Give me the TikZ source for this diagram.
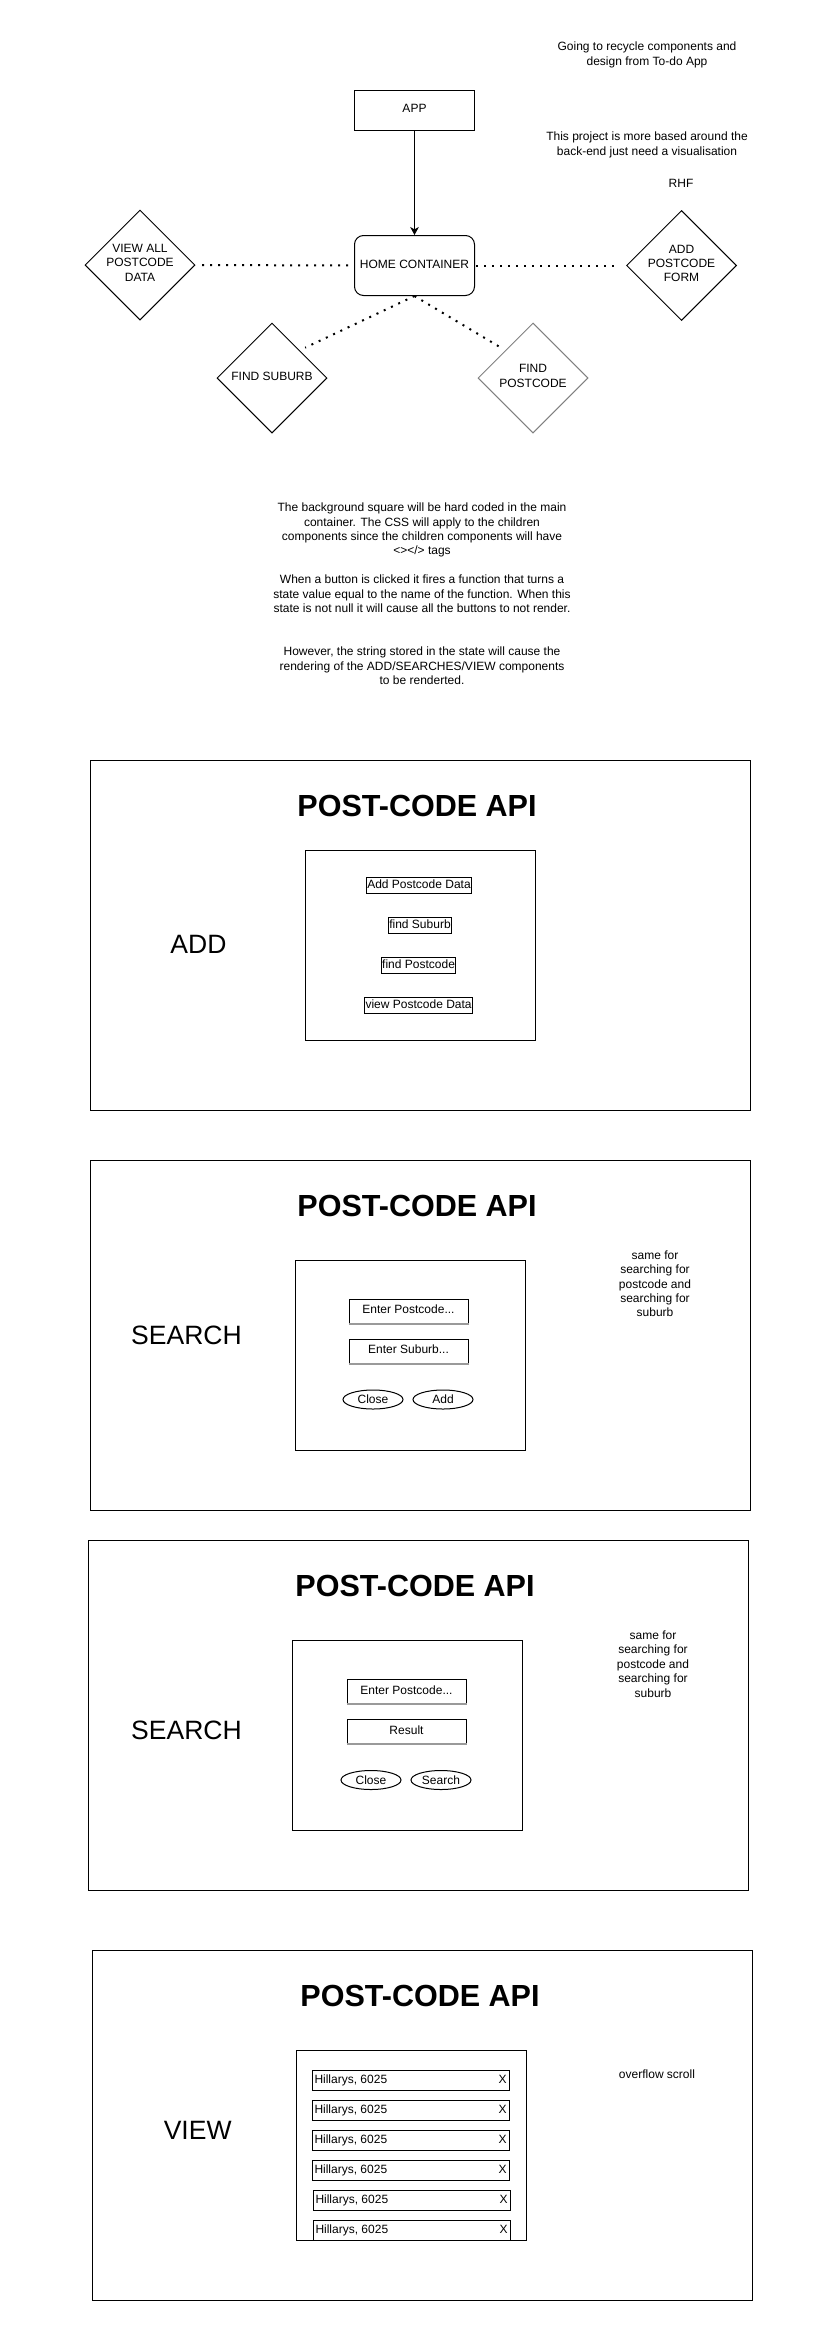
\documentclass[tikz,border=0pt]{standalone}
\usepackage{fontspec}
\setmainfont{Liberation Sans}
\usetikzlibrary{shapes.geometric,arrows.meta}
\definecolor{strokegray}{HTML}{808080}
\definecolor{shadowgray}{HTML}{9A9A9A}
\newcommand{\rowitem}{\makebox[144pt]{Hillarys, 6025\hfill X}}
\begin{document}
\begin{tikzpicture}[x=0.75pt,y=-0.75pt,line width=0.75pt,
  txt/.style={font=\fontsize{9}{10.8}\selectfont,align=center,inner sep=0pt,
    execute at begin node=\strut,execute at end node=\strut},
  box/.style={txt,draw,rectangle},
  dia/.style={draw,diamond,minimum width=82.5pt,minimum height=82.5pt,inner sep=0pt},
  dialabel/.style={txt},
  arr/.style={-{Stealth[length=6pt,width=6.5pt,inset=1.8pt]}},
  dotline/.style={line width=1.5pt,dash pattern=on 1.5pt off 4.5pt,shorten >=4.5pt},
  frame/.style={draw,rectangle,minimum width=495pt,minimum height=262.5pt,inner sep=0pt},
  panel/.style={draw,rectangle,minimum width=172.5pt,minimum height=142.5pt,inner sep=0pt},
  title/.style={font=\fontsize{22.9}{27.5}\selectfont\bfseries,anchor=base,inner sep=0pt},
  biglabel/.style={font=\fontsize{19.9}{23.9}\selectfont,anchor=base,inner sep=0pt},
  btn/.style={box,minimum height=12pt,inner xsep=0.5pt,inner ysep=0pt},
  inputbox/.style={box,minimum width=89.25pt,minimum height=18pt},
  shadowline/.style={draw=shadowgray,line width=1.5pt},
  oval/.style={draw,ellipse,font=\fontsize{9}{10.8}\selectfont,minimum width=45pt,minimum height=14.25pt,inner sep=0pt},
  rowbox/.style={draw,rectangle,font=\fontsize{9}{10.8}\selectfont,inner xsep=1.875pt,inner ysep=0pt,minimum height=15pt,text height=6.8pt,text depth=1.6pt}
]
\useasboundingbox (0,0) rectangle (827,2338);

% ---------- top diagram ----------
\node[txt] (note1) at (647,56) {Going to recycle components and\\design from To-do App};
\node[txt] (note2) at (647,146) {This project is more based around the\\back-end just need a visualisation};
\node[txt] (rhf) at (681,185) {RHF};

\node[box,minimum width=90pt,minimum height=30pt] (app) at (414.5,110) {APP};
\node[box,rounded corners=6.75pt,minimum width=90pt,minimum height=45pt] (home) at (414.5,265.5) {HOME CONTAINER};

\node[dia,label={[dialabel]center:VIEW ALL\\POSTCODE\\DATA}] (viewall) at (140,265) {};
\node[dia,label={[dialabel]center:ADD\\POSTCODE\\FORM}] (addform) at (681.5,265.5) {};
\node[dia,label={[dialabel]center:FIND SUBURB}] (findsub) at (272,378) {};
\node[dia,draw=strokegray,label={[dialabel]center:FIND\\POSTCODE}] (findpc) at (533,378) {};

\draw[arr] (app) -- (home);
\draw[dotline,shorten <=4.5pt] (home.west) -- (viewall.east);
\draw[dotline,shorten <=1pt] (home.east) -- (addform.west);
\draw[dotline] (home.south) -- (findsub.north east);
\draw[dotline] (home.south) -- (findpc.north west);

\node[txt] (para) at (422,596) {The background square will be hard coded in the main\\container. The CSS will apply to the children\\components since the children components will have\\<></> tags\\[10.8pt]When a button is clicked it fires a function that turns a\\state value equal to the name of the function. When this\\state is not null it will cause all the buttons to not render.\\[21.6pt]However, the string stored in the state will cause the\\rendering of the ADD/SEARCHES/VIEW components\\to be renderted.};

% ---------- section 1: ADD ----------
\node[frame] (f1) at (420,935) {};
\node[title] (t1) at (417,816) {POST-CODE API};
\node[biglabel] (l1) at (198.5,953) {ADD};
\node[panel] (p1) at (420,945) {};
\node[btn] (b1) at (419,885.3) {Add Postcode Data};
\node[btn] (b2) at (420,925.3) {find Suburb};
\node[btn] (b3) at (418.6,965.3) {find Postcode};
\node[btn] (b4) at (418.6,1005.3) {view Postcode Data};

% ---------- section 2: SEARCH ----------
\node[frame] (f2) at (420.5,1335) {};
\node[title] (t2) at (417,1216) {POST-CODE API};
\node[biglabel] (l2) at (186.5,1344) {SEARCH};
\node[panel] (p2) at (410,1355) {};
\node[inputbox] (s2a) at (408.5,1311) {Enter Postcode...};
\draw[shadowline] (s2a.south west) -- (s2a.south east);
\node[inputbox] (s2b) at (408.5,1351) {Enter Suburb...};
\draw[shadowline] (s2b.south west) -- (s2b.south east);
\node[oval] (s2c) at (373,1399.5) {Close};
\node[oval] (s2d) at (443,1399.5) {Add};
\node[txt] (n2) at (655,1286) {same for\\searching for\\postcode and\\searching for\\suburb};

% ---------- section 3: SEARCH ----------
\node[frame] (f3) at (418.5,1715) {};
\node[title] (t3) at (415,1596) {POST-CODE API};
\node[biglabel] (l3) at (186.5,1739) {SEARCH};
\node[panel] (p3) at (407,1735) {};
\node[inputbox] (s3a) at (406.5,1691.5) {Enter Postcode...};
\draw[shadowline] (s3a.south west) -- (s3a.south east);
\node[inputbox] (s3b) at (406.5,1731.5) {Result};
\draw[shadowline] (s3b.south west) -- (s3b.south east);
\node[oval] (s3c) at (371,1780) {Close};
\node[oval] (s3d) at (441,1780) {Search};
\node[txt] (n3) at (653,1666) {same for\\searching for\\postcode and\\searching for\\suburb};

% ---------- section 4: VIEW ----------
\node[frame] (f4) at (422,2125) {};
\node[title] (t4) at (420,2006) {POST-CODE API};
\node[biglabel] (l4) at (197.7,2139) {VIEW};
\node[panel] (p4) at (411,2145) {};
\node[rowbox] (r1) at (410.5,2080) {\rowitem};
\node[rowbox] (r2) at (410.5,2110) {\rowitem};
\node[rowbox] (r3) at (410.5,2140) {\rowitem};
\node[rowbox] (r4) at (410.5,2170) {\rowitem};
\node[rowbox] (r5) at (411.5,2200) {\rowitem};
\node[rowbox] (r6) at (411.5,2230) {\rowitem};
\node[txt] (n4) at (657,2076) {overflow scroll};
\end{tikzpicture}
\end{document}
